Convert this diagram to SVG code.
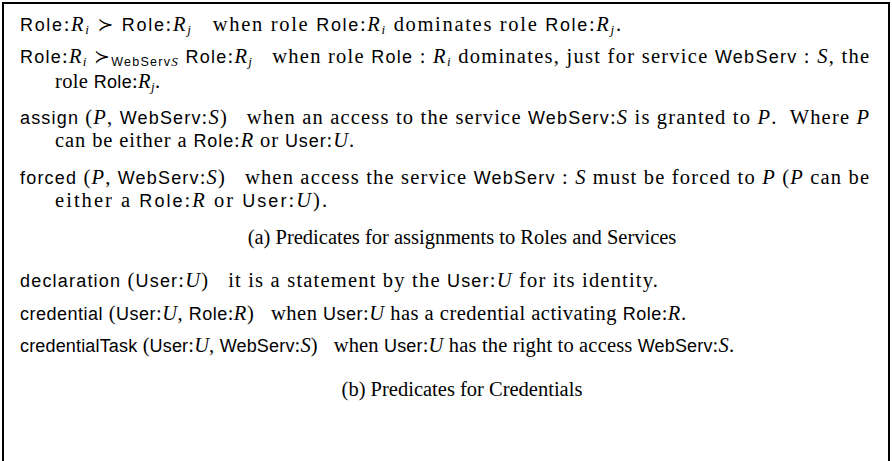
<svg xmlns="http://www.w3.org/2000/svg" width="892" height="461" viewBox="0 0 892 461">
<style>
text{font-family:"Liberation Serif","Times New Roman",serif;font-size:20.5px;fill:#000;white-space:pre}
.s{font-family:"Liberation Sans",Arial,sans-serif;font-size:18px}
.i{font-style:italic}
.b{font-size:13px}
.sb{font-family:"Liberation Sans",Arial,sans-serif;font-size:12.5px}
.sym{font-family:"DejaVu Sans",sans-serif;font-size:19px}
.c{text-anchor:middle}
</style>
<rect width="892" height="461" fill="#fff"/>
<g id="frame" fill="none" stroke="#000" stroke-width="2">
<path d="M3,461 V3 H889 V461"/>
</g>
<g id="partA">
<text x="20" y="31" textLength="601" lengthAdjust="spacing"><tspan class="s">Role</tspan>:<tspan class="i">R</tspan><tspan class="i b" dy="3">i</tspan><tspan dy="-3"> </tspan><tspan class="sym">≻</tspan> <tspan class="s">Role</tspan>:<tspan class="i">R</tspan><tspan class="i b" dy="3">j</tspan><tspan dy="-3">   when role </tspan><tspan class="s">Role</tspan>:<tspan class="i">R</tspan><tspan class="i b" dy="3">i</tspan><tspan dy="-3"> dominates role </tspan><tspan class="s">Role</tspan>:<tspan class="i">R</tspan><tspan class="i b" dy="3">j</tspan><tspan dy="-3">.</tspan></text>
<text x="20" y="63" textLength="849" lengthAdjust="spacing"><tspan class="s">Role</tspan>:<tspan class="i">R</tspan><tspan class="i b" dy="3">i</tspan><tspan dy="-3"> </tspan><tspan class="sym">≻</tspan><tspan class="sb" dy="3">WebServ</tspan><tspan class="i b">S</tspan><tspan dy="-3"> </tspan><tspan class="s">Role</tspan>:<tspan class="i">R</tspan><tspan class="i b" dy="3">j</tspan><tspan dy="-3">   when role </tspan><tspan class="s">Role</tspan> : <tspan class="i">R</tspan><tspan class="i b" dy="3">i</tspan><tspan dy="-3"> dominates, just for service </tspan><tspan class="s">WebServ</tspan> : <tspan class="i">S</tspan>, the</text>
<text x="55" y="88" textLength="105" lengthAdjust="spacing">role <tspan class="s">Role</tspan>:<tspan class="i">R</tspan><tspan class="i b" dy="3">j</tspan><tspan dy="-3">.</tspan></text>
<text x="20" y="124" textLength="849" lengthAdjust="spacing"><tspan class="s">assign</tspan> (<tspan class="i">P</tspan>, <tspan class="s">WebServ</tspan>:<tspan class="i">S</tspan>)   when an access to the service <tspan class="s">WebServ</tspan>:<tspan class="i">S</tspan> is granted to <tspan class="i">P</tspan>.  Where <tspan class="i">P</tspan></text>
<text x="55" y="147" textLength="299" lengthAdjust="spacing">can be either a <tspan class="s">Role</tspan>:<tspan class="i">R</tspan> or <tspan class="s">User</tspan>:<tspan class="i">U</tspan>.</text>
<text x="20" y="184" textLength="849" lengthAdjust="spacing"><tspan class="s">forced</tspan> (<tspan class="i">P</tspan>, <tspan class="s">WebServ</tspan>:<tspan class="i">S</tspan>)   when access the service <tspan class="s">WebServ</tspan> : <tspan class="i">S</tspan> must be forced to <tspan class="i">P</tspan> (<tspan class="i">P</tspan> can be</text>
<text x="55" y="207" textLength="272" lengthAdjust="spacing">either a <tspan class="s">Role</tspan>:<tspan class="i">R</tspan> or <tspan class="s">User</tspan>:<tspan class="i">U</tspan>).</text>
<text class="c" x="462" y="244">(a) Predicates for assignments to Roles and Services</text>
</g>
<g id="partB">
<text x="20" y="287" textLength="638" lengthAdjust="spacing"><tspan class="s">declaration</tspan> (<tspan class="s">User</tspan>:<tspan class="i">U</tspan>)   it is a statement by the <tspan class="s">User</tspan>:<tspan class="i">U</tspan> for its identity.</text>
<text x="20" y="320" textLength="666" lengthAdjust="spacing"><tspan class="s">credential</tspan> (<tspan class="s">User</tspan>:<tspan class="i">U</tspan>, <tspan class="s">Role</tspan>:<tspan class="i">R</tspan>)   when <tspan class="s">User</tspan>:<tspan class="i">U</tspan> has a credential activating <tspan class="s">Role</tspan>:<tspan class="i">R</tspan>.</text>
<text x="20" y="352" textLength="714" lengthAdjust="spacing"><tspan class="s">credentialTask</tspan> (<tspan class="s">User</tspan>:<tspan class="i">U</tspan>, <tspan class="s">WebServ</tspan>:<tspan class="i">S</tspan>)   when <tspan class="s">User</tspan>:<tspan class="i">U</tspan> has the right to access <tspan class="s">WebServ</tspan>:<tspan class="i">S</tspan>.</text>
<text class="c" x="462" y="396">(b) Predicates for Credentials</text>
</g>
</svg>
